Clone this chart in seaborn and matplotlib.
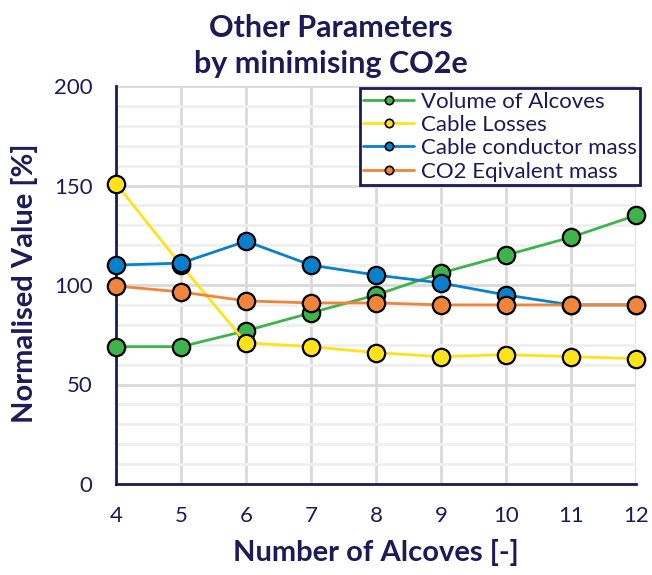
import matplotlib
matplotlib.use("Agg")
import matplotlib.pyplot as plt
import seaborn as sns
import pandas as pd
from matplotlib.lines import Line2D
from matplotlib.ticker import MultipleLocator

# data
alcoves = [4, 5, 6, 7, 8, 9, 10, 11, 12]
volume_of_alcoves = [69, 69, 77, 86, 95, 106, 115, 124, 135]
cable_losses = [151, 110, 71, 69, 66, 64, 65, 64, 63]
conductor_mass = [110, 111, 122, 110, 105, 101, 95, 90, 90]
co2_mass = [99.5, 96.5, 92, 91, 91, 90, 90, 90, 90]

series_names = ["Volume of Alcoves", "Cable Losses", "Cable conductor mass", "CO2 Eqivalent mass"]
series_values = [volume_of_alcoves, cable_losses, conductor_mass, co2_mass]
colors = ["#3CB44B", "#FFE21A", "#0A7FCB", "#F0843A"]

navy = "#1B1B57"

sns.set_style("white")
plt.rcParams["font.family"] = ["Lato", "DejaVu Sans"]

dpi = 100
fig, ax = plt.subplots(figsize=(652 / dpi, 575 / dpi), dpi=dpi)
fig.subplots_adjust(left=116 / 652, right=636 / 652, top=1 - 86 / 575, bottom=1 - 484 / 575)

for name, vals, col in zip(series_names, series_values, colors):
    df = pd.DataFrame({"x": alcoves, "y": vals})
    sns.lineplot(data=df, x="x", y="y", ax=ax, color=col, linewidth=2,
                 marker="o", markersize=12.5, markeredgecolor="black",
                 markeredgewidth=1.6, markerfacecolor=col, zorder=3, clip_on=False)

ax.set_xlim(4, 12)
ax.set_ylim(0, 200)
ax.xaxis.set_major_locator(MultipleLocator(1))
ax.yaxis.set_major_locator(MultipleLocator(50))
ax.yaxis.set_minor_locator(MultipleLocator(10))

ax.grid(True, axis="x", which="major", color="#D9D9D9", linewidth=2)
ax.grid(True, axis="y", which="major", color="#D9D9D9", linewidth=2)
ax.grid(True, axis="y", which="minor", color="#EFEFEF", linewidth=2)
ax.set_axisbelow(True)

for s in ["top", "right"]:
    ax.spines[s].set_visible(False)
for s in ["left", "bottom"]:
    ax.spines[s].set_color(navy)
    ax.spines[s].set_linewidth(2)

ax.tick_params(axis="both", which="major", direction="inout", length=10, width=2,
               color=navy, labelcolor=navy, labelsize=16)
ax.tick_params(axis="x", which="major", pad=11)
ax.tick_params(axis="y", which="major", pad=12)
ax.tick_params(axis="y", which="minor", direction="inout", length=10, width=2, color=navy)

ax.set_xlabel("")
ax.set_ylabel("")

fig.text(376 / 652, 1 - 553 / 575, "Number of Alcoves [-]", ha="center", va="center",
         fontsize=21, fontweight="bold", color=navy)
fig.text(25 / 652, 1 - 283 / 575, "Normalised Value [%]", ha="center", va="center",
         rotation=90, fontsize=21, fontweight="bold", color=navy)
fig.text(331 / 652, 1 - 46 / 575, "Other Parameters\nby minimising CO2e", ha="center",
         va="center", fontsize=22, fontweight="bold", color=navy, linespacing=1.32)

handles = [Line2D([0], [0], color=c, linewidth=2, marker="o", markersize=6,
                  markerfacecolor=c, markeredgecolor="black", markeredgewidth=1.2)
           for c in colors]
leg = ax.legend(handles, series_names, loc="upper right", bbox_to_anchor=(1.012, 1.0),
                frameon=True, fancybox=False, fontsize=16, handlelength=2.3,
                labelspacing=0.15, borderpad=0.15, handletextpad=0.3, borderaxespad=0.1)
leg.get_frame().set_edgecolor(navy)
leg.get_frame().set_linewidth(2)
leg.get_frame().set_facecolor("white")
leg.get_frame().set_alpha(1)
for t in leg.get_texts():
    t.set_color(navy)

fig.savefig("out.png", dpi=dpi)
